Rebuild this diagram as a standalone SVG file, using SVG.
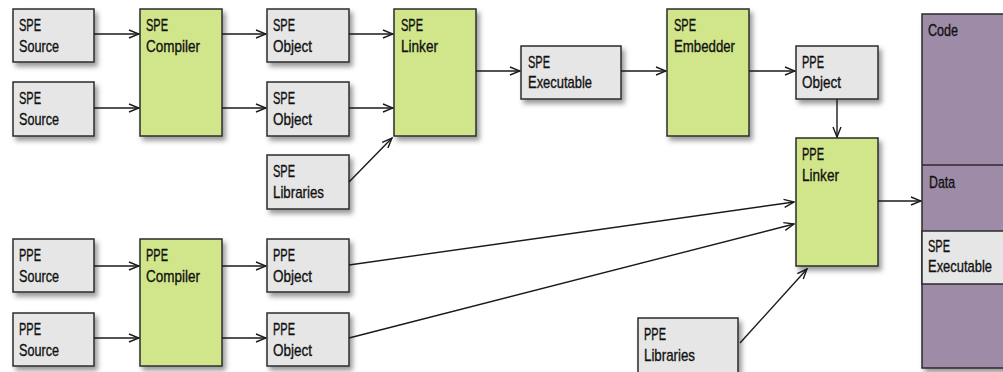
<svg xmlns="http://www.w3.org/2000/svg" width="1003" height="372" viewBox="0 0 1003 372">
<style>
.box{fill:#e6e6e6;stroke:#2b2b2b;stroke-width:1.5;filter:url(#sh)}
.tool{fill:#d1e68a;stroke:#2b2b2b;stroke-width:1.5;filter:url(#sh)}
.mem{fill:#9d8ba7;stroke:#2b2b2b;stroke-width:1.5}
.memx{fill:#e6e6e6;stroke:#2b2b2b;stroke-width:1.5}
text{font-family:"Liberation Sans",Arial,sans-serif;font-size:17px;fill:#111;stroke:#111;stroke-width:0.35}
.c path,.c line{stroke:#1a1a1a;stroke-width:1.4;fill:none;marker-end:url(#ar)}
</style>
<defs>
<filter id="sh" x="-20%" y="-20%" width="150%" height="150%">
<feDropShadow dx="3" dy="4" stdDeviation="2.5" flood-color="#000" flood-opacity="0.4"/>
</filter>
<marker id="ar" markerWidth="12" markerHeight="10" refX="11" refY="5" orient="auto" markerUnits="userSpaceOnUse">
<path d="M1,1 L11,5 L1,9" fill="none" stroke="#1a1a1a" stroke-width="1.4"/>
</marker>
</defs>

<g id="mem">
<rect class="mem" x="922" y="14" width="90" height="354" style="filter:url(#sh)"/>
<line x1="922" y1="165" x2="1003" y2="165" stroke="#2b2b2b" stroke-width="1.5"/>
<rect class="memx" x="922" y="231" width="90" height="53"/>
<text x="928" y="36" textLength="30" lengthAdjust="spacingAndGlyphs">Code</text>
<text x="929" y="188" textLength="26" lengthAdjust="spacingAndGlyphs">Data</text>
<text x="928" y="252" textLength="22" lengthAdjust="spacingAndGlyphs">SPE</text>
<text x="928" y="272" textLength="64" lengthAdjust="spacingAndGlyphs">Executable</text>
</g>

<g id="spe-src1"><rect class="box" x="13" y="9" width="81" height="53"/><text x="19" y="31" textLength="22" lengthAdjust="spacingAndGlyphs">SPE</text><text x="19" y="52" textLength="40" lengthAdjust="spacingAndGlyphs">Source</text></g>
<g id="spe-src2"><rect class="box" x="13" y="82" width="81" height="54"/><text x="19" y="104" textLength="22" lengthAdjust="spacingAndGlyphs">SPE</text><text x="19" y="125" textLength="40" lengthAdjust="spacingAndGlyphs">Source</text></g>
<g id="spe-comp"><rect class="tool" x="140" y="9" width="82" height="127"/><text x="146" y="31" textLength="22" lengthAdjust="spacingAndGlyphs">SPE</text><text x="146" y="52" textLength="54" lengthAdjust="spacingAndGlyphs">Compiler</text></g>
<g id="spe-obj1"><rect class="box" x="267" y="9" width="82" height="53"/><text x="273" y="31" textLength="22" lengthAdjust="spacingAndGlyphs">SPE</text><text x="273" y="52" textLength="39" lengthAdjust="spacingAndGlyphs">Object</text></g>
<g id="spe-obj2"><rect class="box" x="267" y="82" width="82" height="54"/><text x="273" y="104" textLength="22" lengthAdjust="spacingAndGlyphs">SPE</text><text x="273" y="125" textLength="39" lengthAdjust="spacingAndGlyphs">Object</text></g>
<g id="spe-lib"><rect class="box" x="267" y="155" width="82" height="54"/><text x="273" y="177" textLength="22" lengthAdjust="spacingAndGlyphs">SPE</text><text x="273" y="198" textLength="51" lengthAdjust="spacingAndGlyphs">Libraries</text></g>
<g id="spe-link"><rect class="tool" x="394" y="9" width="82" height="127"/><text x="401" y="31" textLength="22" lengthAdjust="spacingAndGlyphs">SPE</text><text x="401" y="52" textLength="37" lengthAdjust="spacingAndGlyphs">Linker</text></g>
<g id="spe-exe"><rect class="box" x="521" y="46" width="100" height="53"/><text x="528" y="68" textLength="22" lengthAdjust="spacingAndGlyphs">SPE</text><text x="528" y="88" textLength="64" lengthAdjust="spacingAndGlyphs">Executable</text></g>
<g id="spe-emb"><rect class="tool" x="667" y="9" width="82" height="127"/><text x="674" y="31" textLength="22" lengthAdjust="spacingAndGlyphs">SPE</text><text x="674" y="52" textLength="61" lengthAdjust="spacingAndGlyphs">Embedder</text></g>
<g id="ppe-obj0"><rect class="box" x="796" y="46" width="82" height="53"/><text x="802" y="68" textLength="22" lengthAdjust="spacingAndGlyphs">PPE</text><text x="802" y="88" textLength="39" lengthAdjust="spacingAndGlyphs">Object</text></g>
<g id="ppe-link"><rect class="tool" x="796" y="138" width="82" height="128"/><text x="802" y="160" textLength="22" lengthAdjust="spacingAndGlyphs">PPE</text><text x="802" y="181" textLength="37" lengthAdjust="spacingAndGlyphs">Linker</text></g>

<g id="ppe-src1"><rect class="box" x="13" y="239" width="81" height="53"/><text x="19" y="261" textLength="22" lengthAdjust="spacingAndGlyphs">PPE</text><text x="19" y="282" textLength="40" lengthAdjust="spacingAndGlyphs">Source</text></g>
<g id="ppe-src2"><rect class="box" x="13" y="313" width="81" height="53"/><text x="19" y="335" textLength="22" lengthAdjust="spacingAndGlyphs">PPE</text><text x="19" y="356" textLength="40" lengthAdjust="spacingAndGlyphs">Source</text></g>
<g id="ppe-comp"><rect class="tool" x="140" y="239" width="82" height="127"/><text x="146" y="261" textLength="22" lengthAdjust="spacingAndGlyphs">PPE</text><text x="146" y="282" textLength="54" lengthAdjust="spacingAndGlyphs">Compiler</text></g>
<g id="ppe-obj1"><rect class="box" x="267" y="239" width="82" height="53"/><text x="273" y="261" textLength="22" lengthAdjust="spacingAndGlyphs">PPE</text><text x="273" y="282" textLength="39" lengthAdjust="spacingAndGlyphs">Object</text></g>
<g id="ppe-obj2"><rect class="box" x="267" y="313" width="82" height="53"/><text x="273" y="335" textLength="22" lengthAdjust="spacingAndGlyphs">PPE</text><text x="273" y="356" textLength="39" lengthAdjust="spacingAndGlyphs">Object</text></g>
<g id="ppe-lib"><rect class="box" x="638" y="318" width="100" height="60"/><text x="644" y="340" textLength="22" lengthAdjust="spacingAndGlyphs">PPE</text><text x="644" y="361" textLength="51" lengthAdjust="spacingAndGlyphs">Libraries</text></g>

<g id="connectors" class="c">
<line x1="94" y1="34" x2="139" y2="34"/>
<line x1="94" y1="108" x2="139" y2="108"/>
<line x1="222" y1="34" x2="266" y2="34"/>
<line x1="222" y1="108" x2="266" y2="108"/>
<line x1="349" y1="34" x2="393" y2="34"/>
<line x1="349" y1="108" x2="393" y2="108"/>
<line x1="349" y1="182" x2="392" y2="138"/>
<line x1="476" y1="71" x2="520" y2="71"/>
<line x1="621" y1="71" x2="666" y2="71"/>
<line x1="749" y1="71" x2="795" y2="71"/>
<line x1="837" y1="99" x2="837" y2="137"/>
<line x1="878" y1="201" x2="921" y2="201"/>
<line x1="94" y1="266" x2="139" y2="266"/>
<line x1="94" y1="338" x2="139" y2="338"/>
<line x1="222" y1="266" x2="266" y2="266"/>
<line x1="222" y1="338" x2="266" y2="338"/>
<line x1="349" y1="265" x2="794" y2="202"/>
<line x1="349" y1="338" x2="794" y2="224"/>
<line x1="740" y1="343" x2="807" y2="269"/>
</g>
</svg>
